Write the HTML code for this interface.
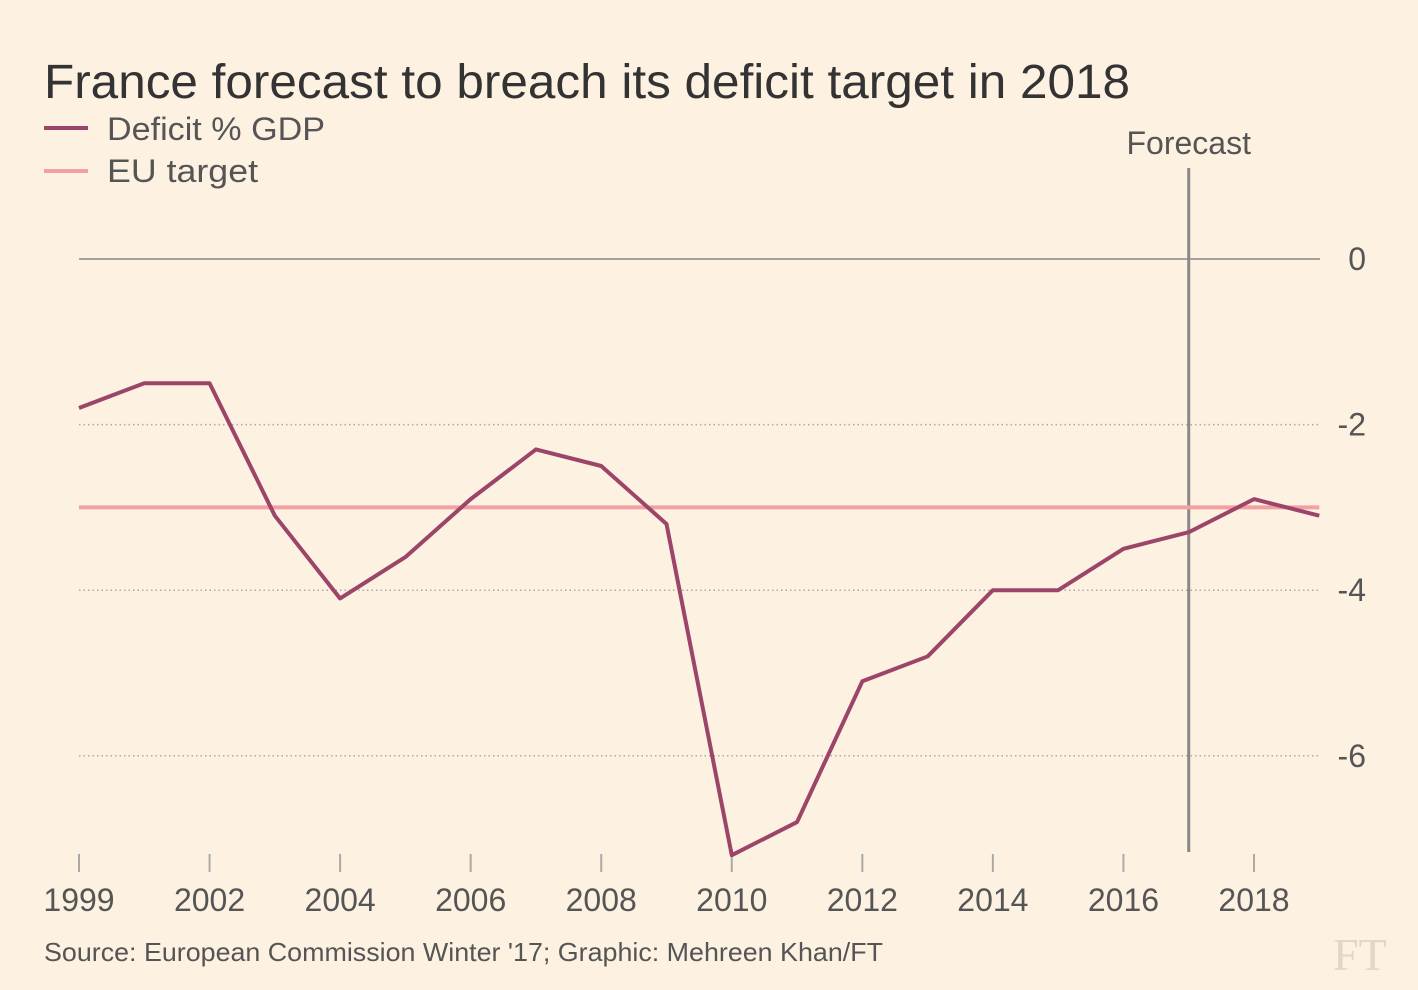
<!DOCTYPE html>
<html><head><meta charset="utf-8"><style>
html,body{margin:0;padding:0;background:#fdf1e2;}
svg{display:block;font-family:"Liberation Sans",sans-serif;}
</style></head><body>
<svg id="chart" width="1418" height="990" viewBox="0 0 1418 990">
<rect width="1418" height="990" fill="#fdf1e2"/>
<text x="44" y="98" font-size="48" fill="#333" textLength="1086" lengthAdjust="spacingAndGlyphs">France forecast to breach its deficit target in 2018</text>
<g>
<line x1="44" y1="128" x2="88" y2="128" stroke="#9b4569" stroke-width="4"/>
<text x="107" y="140" font-size="32" fill="#555" textLength="218" lengthAdjust="spacingAndGlyphs">Deficit % GDP</text>
<line x1="44" y1="171" x2="88" y2="171" stroke="#f2a0a3" stroke-width="4"/>
<text x="107" y="182" font-size="32" fill="#555" textLength="151" lengthAdjust="spacingAndGlyphs">EU target</text>
</g>
<g id="grid"></g>
<g id="marks"></g>
<text x="44" y="961" font-size="26" fill="#555" textLength="839" lengthAdjust="spacingAndGlyphs">Source: European Commission Winter '17; Graphic: Mehreen Khan/FT</text>
<text x="1333" y="970" font-size="46" font-family="Liberation Serif,serif" fill="#e2d6c4">FT</text>
</svg>
<script>
const years=[2000,2001,2002,2003,2004,2005,2006,2007,2008,2009,2010,2011,2012,2013,2014,2015,2016,2017,2018,2019];
const deficit=[-1.8,-1.5,-1.5,-3.1,-4.1,-3.6,-2.9,-2.3,-2.5,-3.2,-7.2,-6.8,-5.1,-4.8,-4.0,-4.0,-3.5,-3.3,-2.9,-3.1];
const euTarget=-3;
const yTicks=[0,-2,-4,-6];
const xTickYears=[2000,2002,2004,2006,2008,2010,2012,2014,2016,2018];
const xTickLabels=["1999","2002","2004","2006","2008","2010","2012","2014","2016","2018"];
const forecastYear=2017;
const X=y=>79+(y-2000)*(1254-79)/18;
const Y=v=>259-v*82.8;
const NS="http://www.w3.org/2000/svg";
const grid=document.getElementById('grid'),marks=document.getElementById('marks');
function mk(tag,attrs,parent){const e=document.createElementNS(NS,tag);for(const k in attrs)e.setAttribute(k,attrs[k]);parent.appendChild(e);return e;}
yTicks.forEach(t=>{
 const l=mk('line',{x1:79,x2:1320,y1:Y(t),y2:Y(t),stroke:t===0?'#888':'#aaa','stroke-width':1.5,'stroke-dasharray':t===0?'':'1.5 3'},grid);
 
 
 const tx=mk('text',{x:1366,y:Y(t)+11,'font-size':32,fill:'#555','text-anchor':'end'},grid);
 tx.textContent=String(t);
 
 
});
xTickYears.forEach((yr,i)=>{
 const l=mk('line',{x1:X(yr),x2:X(yr),y1:854,y2:872,stroke:'#aaa','stroke-width':2},grid);
 
 
 const tx=mk('text',{x:X(yr),y:911,'font-size':32,fill:'#555','text-anchor':'middle'},grid);
 tx.textContent=xTickLabels[i];
 
 
});
const fl=mk('line',{x1:X(forecastYear),x2:X(forecastYear),y1:168,y2:852,stroke:'#888','stroke-width':3},marks);


const ft=mk('text',{x:X(forecastYear),y:154,'font-size':32,fill:'#555','text-anchor':'middle'},marks);
ft.textContent='Forecast';


const tl=mk('line',{x1:X(years[0]),x2:X(years[years.length-1]),y1:Y(euTarget),y2:Y(euTarget),stroke:'#f2a0a3','stroke-width':4},marks);


const pts=years.map((y,i)=>X(y)+','+Y(deficit[i])).join(' ');
const dl=mk('polyline',{points:pts,fill:'none',stroke:'#9b4569','stroke-width':4,'stroke-linejoin':'round'},marks);


</script>
</body></html>
